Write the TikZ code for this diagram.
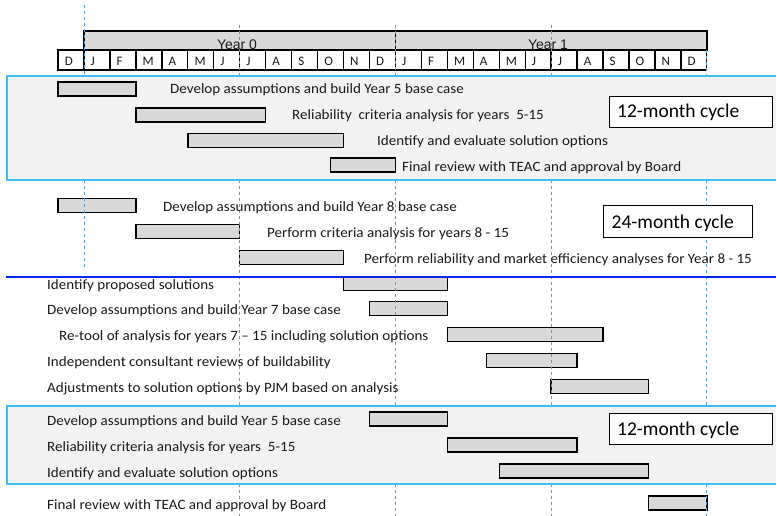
\documentclass[tikz,border=0pt]{standalone}
\usepackage{fontspec}
\setmainfont{Carlito}
\newfontfamily\taskfont{Carlito}[FakeStretch=1.06]
\newfontfamily\arialfont{Liberation Sans}
\definecolor{barfill}{RGB}{217,217,217}
\definecolor{shadefill}{RGB}{242,242,242}
\definecolor{shadeline}{RGB}{60,190,240}
\definecolor{gridblue}{RGB}{91,155,213}
\definecolor{sepblue}{RGB}{0,40,230}
\definecolor{txt}{RGB}{25,25,25}
\newcommand\mx[1]{84+25.95*(#1)}
\newcommand\ganttbar[3]{\draw[bar] ({\mx{#1}},{#3-7}) rectangle ({\mx{#2}},{#3+7});}
\begin{document}
\begin{tikzpicture}[x=1pt,y=-1pt,
  bar/.style={draw=black,fill=barfill,line width=1.4pt},
  task/.style={anchor=base west,inner sep=0pt,text=txt,font=\taskfont\fontsize{14.2}{16}\selectfont},
  monthlbl/.style={anchor=base west,inner sep=0pt,text=txt,font=\fontsize{13}{15}\selectfont},
  yearlbl/.style={anchor=base,inner sep=0pt,text=txt,font=\arialfont\fontsize{14}{16}\selectfont},
  cyclelbl/.style={anchor=base west,inner sep=0pt,text=black,font=\fontsize{19.5}{22}\selectfont},
  cyclebox/.style={draw=black,fill=white,line width=0.8pt},
  headbox/.style={draw=black,fill=barfill,line width=1.6pt},
  cell/.style={draw=black,fill=white,line width=1.3pt},
  shade/.style={draw=shadeline,fill=shadefill,line width=1.3pt},
  vline/.style={draw=gridblue,line width=0.8pt,dash pattern=on 3pt off 3pt},
  sep/.style={draw=sepblue,line width=2pt}
]
\useasboundingbox (0,0) rectangle (776,516);

% header
\draw[headbox] ({\mx{0}},31) rectangle ({\mx{12}},50);
\draw[headbox] ({\mx{12}},31) rectangle ({\mx{24}},50);
\foreach \k/\l in {0/D,1/J,2/F,3/M,4/A,5/M,6/J,7/J,8/A,9/S,10/O,11/N,12/D,
                   13/J,14/F,15/M,16/A,17/M,18/J,19/J,20/A,21/S,22/O,23/N,24/D}{
  \draw[cell] ({\mx{\k-1}},50) rectangle ({\mx{\k}},70);
  \node[monthlbl] (mon\k) at ({\mx{\k-1}+6.5},65.5) {\l};
}
\node[yearlbl] (y0) at (237,50) {Year 0};
\node[yearlbl] (y1) at (548,50) {Year 1};

% section 2 bars
\ganttbar{-1}{2}{205.5}
\ganttbar{2}{6}{231.5}
\ganttbar{6}{10}{257.5}
% section 3 bars
\ganttbar{10}{14}{283.5}
\ganttbar{11}{14}{308.5}
\ganttbar{14}{20}{334.5}
\ganttbar{15.5}{19}{360.5}
\ganttbar{18}{21.75}{386.5}
% final bar
\ganttbar{21.75}{24}{503}

% dashed month guides
\draw[vline] ({\mx{0}},5) -- ({\mx{0}},76);
\draw[vline] ({\mx{0}},180) -- ({\mx{0}},268);
\foreach \k in {6,12,18}{
  \draw[vline] ({\mx{\k}},25) -- ({\mx{\k}},76);
  \draw[vline] ({\mx{\k}},180) -- ({\mx{\k}},406);
  \draw[vline] ({\mx{\k}},484) -- ({\mx{\k}},516);
}
\draw[vline] ({\mx{24}},50) -- ({\mx{24}},76);
\draw[vline] ({\mx{24}},180) -- ({\mx{24}},406);
\draw[vline] ({\mx{24}},484) -- ({\mx{24}},516);

% shaded boxes
\draw[shade] (7,76) rectangle (778,180);
\draw[shade] (7,406) rectangle (778,484);

% top box bars
\ganttbar{-1}{2}{89}
\ganttbar{2}{7}{115}
\ganttbar{4}{10}{140.5}
\ganttbar{9.5}{12}{165}
% section 4 bars
\ganttbar{11}{14}{419}
\ganttbar{14}{19}{445}
\ganttbar{16}{21.75}{471}

% texts
\node[task] (t1) at (170,94) {Develop assumptions and build Year 5 base case};
\node[task] (t2) at (292,120) {Reliability\ \ criteria analysis for years\ \ 5-15};
\node[task] (t3) at (377,146) {Identify and evaluate solution options};
\node[task] (t4) at (402,171) {Final review with TEAC and approval by Board};

\node[task] (u1) at (163,211) {Develop assumptions and build Year 8 base case};
\node[task] (u2) at (267,237) {Perform criteria analysis for years 8 - 15};
\node[task] (u3) at (364,263) {Perform reliability and market efficiency analyses for Year 8 - 15};

\node[task] (v1) at (47,289.5) {Identify proposed solutions};
\node[task] (v2) at (47,314.5) {Develop assumptions and build Year 7 base case};
\node[task] (v3) at (59,340.5) {Re-tool of analysis for years 7 – 15 including solution options};
\node[task] (v4) at (47,366.5) {Independent consultant reviews of buildability};
\node[task] (v5) at (47,392.5) {Adjustments to solution options by PJM based on analysis};

\node[task] (w1) at (47,425) {Develop assumptions and build Year 5 base case};
\node[task] (w2) at (47,451) {Reliability criteria analysis for years\ \ 5-15};
\node[task] (w3) at (47,477) {Identify and evaluate solution options};
\node[task] (w4) at (47,509.5) {Final review with TEAC and approval by Board};

% cycle boxes
\draw[cyclebox] (609,96) rectangle (772,127);
\node[cyclelbl] (c1) at (617,117.7) {12-month cycle};
\draw[cyclebox] (603,205) rectangle (752,237);
\node[cyclelbl] (c2) at (611.5,228) {24-month cycle};
\draw[cyclebox] (609,413) rectangle (772,444);
\node[cyclelbl] (c3) at (617,435) {12-month cycle};

% separator
\draw[sep] (6,277) -- (778,277);
\end{tikzpicture}
\end{document}
